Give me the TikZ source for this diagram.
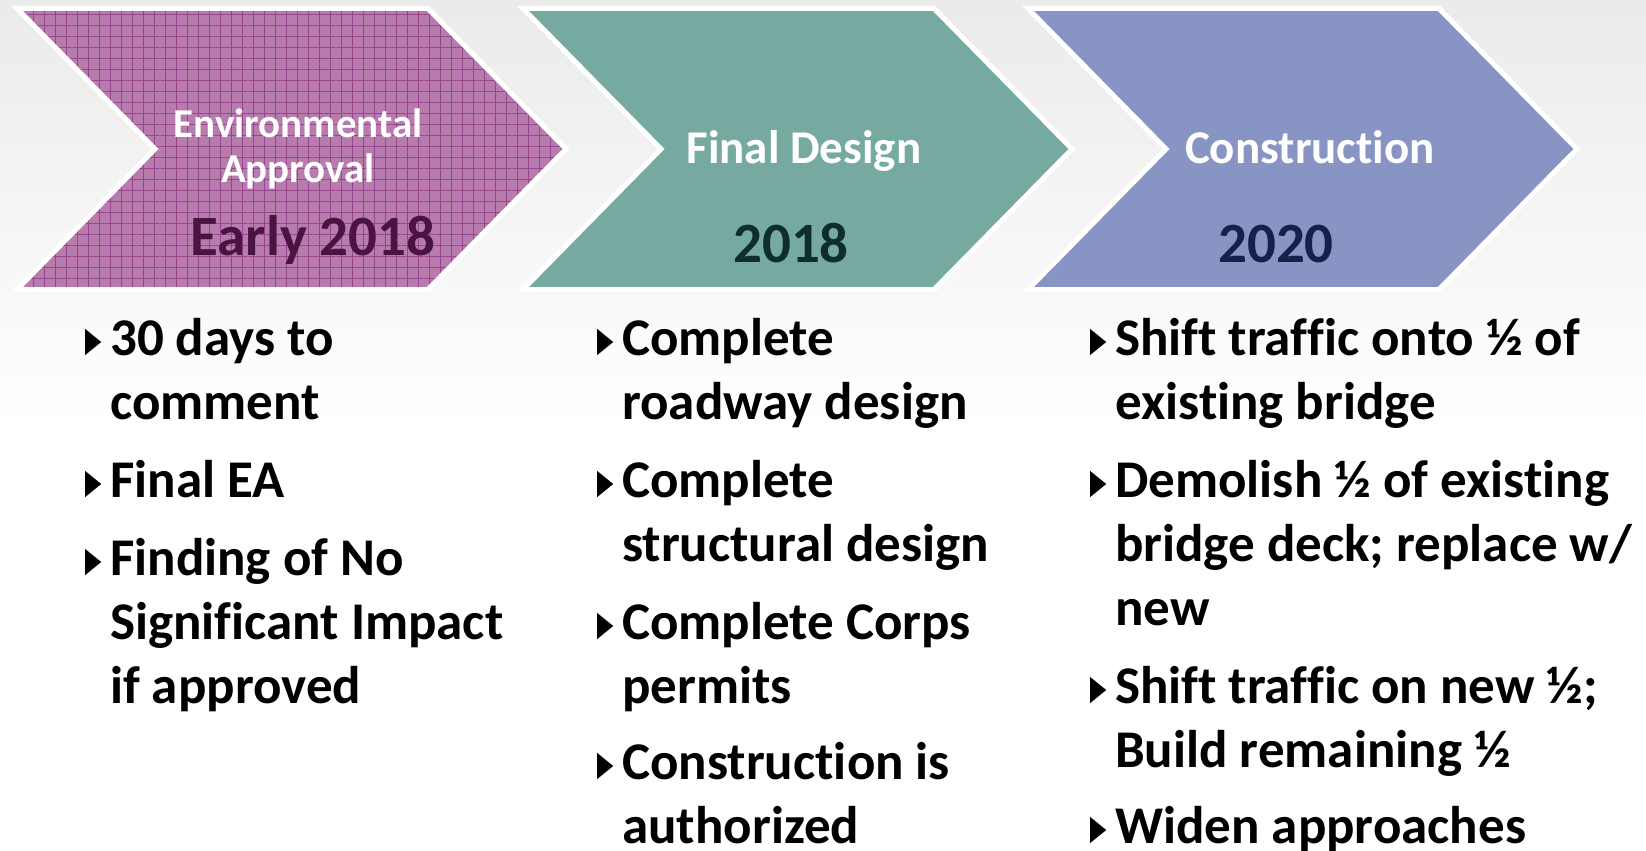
\documentclass[tikz,border=0pt]{standalone}
\usepackage{fontspec}
\setmainfont{Carlito}[Ligatures={NoCommon}, RawFeature={-liga;-clig}]
\usepackage{xcolor}
\definecolor{colorEnv}{HTML}{B87BAE}
\definecolor{colorEnvGrid}{HTML}{8C3483}
\definecolor{colorDesign}{HTML}{76AAA1}
\definecolor{colorBuild}{HTML}{8894C3}
\definecolor{colorEnvYear}{HTML}{4A1342}
\definecolor{colorDesignYear}{HTML}{0E2E29}
\definecolor{colorBuildYear}{HTML}{14214B}
\usepackage{tikz}
\usetikzlibrary{patterns.meta}
\tikzset{
  phase/.style={draw=white, line width=5pt, line join=miter},
  title/.style={anchor=base, align=center, text=white, inner sep=0pt, font=\fontsize{47}{47}\selectfont\bfseries},
  year/.style={anchor=base, inner sep=0pt, font=\fontsize{57}{57}\selectfont\bfseries},
  item/.style={anchor=base west, align=left, inner sep=0pt, font=\fontsize{53}{64}\selectfont\bfseries},
}
\newcommand{\chevron}[1]{(#1,8.5) -- ++(411,0) -- ++(138,140.5) -- ++(-138,140.5) -- ++(-411,0) -- ++(138,-140.5) -- cycle}
\newcommand{\bul}{\llap{\tikz[x=1pt,y=1pt]\fill (0,0) -- (0,26) -- (16,13) -- cycle;\hspace{9pt}}}

\begin{document}
\begin{tikzpicture}[x=1pt, y=-1pt]
\useasboundingbox (0,0) rectangle (1646,851);
\shade[top color=black!8, bottom color=white, middle color=white] (0,0) rectangle (1646,851);
% chevrons
\fill[colorEnv] \chevron{17};
\fill[pattern={Hatch[angle=0, distance=11pt, line width=1pt]}, pattern color=colorEnvGrid!75!colorEnv] \chevron{17};
\draw[phase] \chevron{17};
\fill[colorDesign] \chevron{523};
\draw[phase] \chevron{523};
\fill[colorBuild] \chevron{1028};
\draw[phase] \chevron{1028};
% titles
\node[title, font=\fontsize{41}{45}\selectfont\bfseries] (envTitle) at (298,182) {Environmental\\Approval};
\node[year, text=colorEnvYear] (envYear) at (313,255) {Early 2018};
\node[title] (designTitle) at (804,163) {Final Design};
\node[year, text=colorDesignYear] (designYear) at (791,262) {2018};
\node[title] (buildTitle) at (1310,163) {Construction};
\node[year, text=colorBuildYear] (buildYear) at (1276,262) {2020};
% bullets (placed at the baseline of their last line)
\node[item] (e1) at (110,419) {\bul 30 days to\\comment};
\node[item] (e2) at (110,497) {\bul Final EA};
\node[item] (e3) at (110,703) {\bul Finding of No\\Significant Impact\\if approved};
\node[item] (d1) at (622,419) {\bul Complete\\roadway design};
\node[item] (d2) at (622,561) {\bul Complete\\structural design};
\node[item] (d3) at (622,703) {\bul Complete Corps\\permits};
\node[item] (d4) at (622,843) {\bul Construction is\\authorized};
\node[item] (b1) at (1115,419) {\bul Shift traffic onto ½ of\\existing bridge};
\node[item] (b2) at (1115,625) {\bul Demolish ½ of existing\\bridge deck; replace w/\\new};
\node[item] (b3) at (1115,767) {\bul Shift traffic on new ½;\\Build remaining ½};
\node[item] (b4) at (1115,843) {\bul Widen approaches};
\end{tikzpicture}
\end{document}
